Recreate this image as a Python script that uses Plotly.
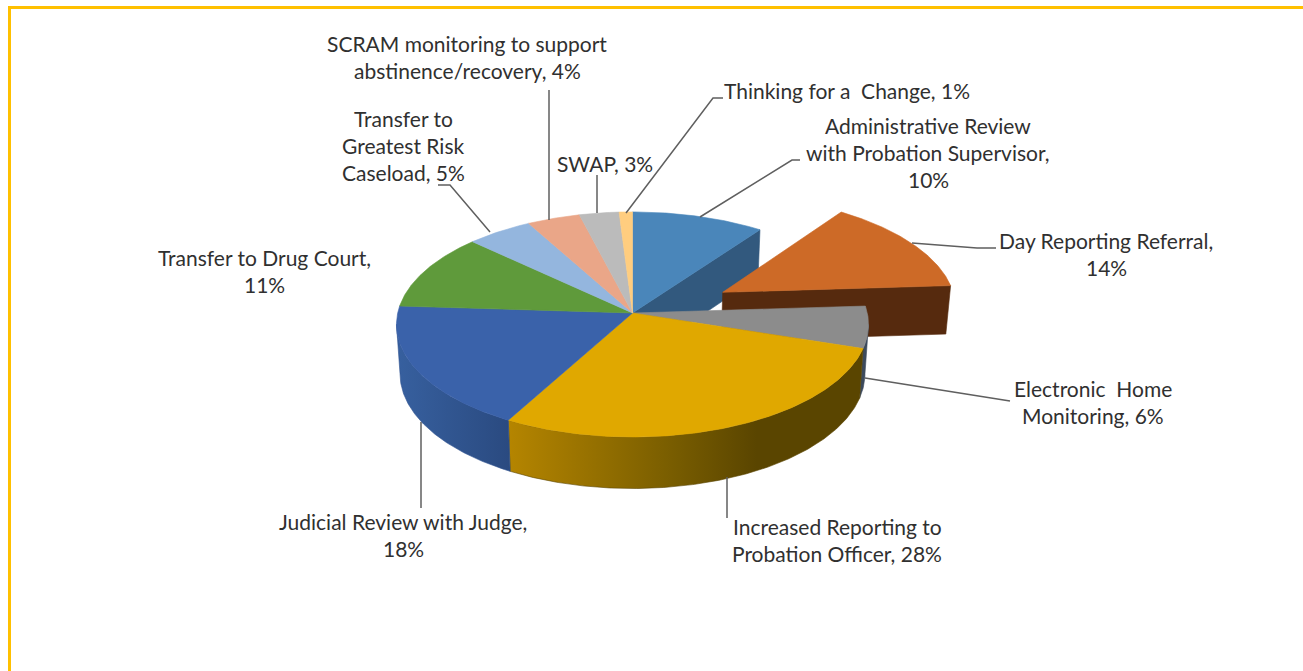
import numpy as np
import plotly.graph_objects as go

# ---- data ----
categories = ["Administrative Review with Probation Supervisor", "Day Reporting Referral",
              "Electronic Home Monitoring", "Increased Reporting to Probation Officer",
              "Judicial Review with Judge", "Transfer to Drug Court",
              "Transfer to Greatest Risk Caseload", "SCRAM monitoring to support abstinence/recovery",
              "SWAP", "Thinking for a Change"]
values = [10, 14, 6, 28, 18, 11, 5, 4, 3, 1]
label_lines = [
    ["Administrative Review", "with Probation Supervisor,", "10%"],
    ["Day Reporting Referral,", "14%"],
    ["Electronic\u00a0 Home", "Monitoring, 6%"],
    ["Increased Reporting to", "Probation Officer, 28%"],
    ["Judicial Review with Judge,", "18%"],
    ["Transfer to Drug Court,", "11%"],
    ["Transfer to", "Greatest Risk", "Caseload, 5%"],
    ["SCRAM monitoring to support", "abstinence/recovery, 4%"],
    ["SWAP, 3%"],
    ["Thinking for a\u00a0 Change, 1%"],
]

# ---- styling / layout ----
top_colors = ["#4A86BA", "#CD6A27", "#8C8C8C", "#E0A800", "#3A62AA",
              "#5F9A3B", "#94B6DE", "#EAA688", "#BBBBBB", "#FFCD7F"]
explode = {1: (0.435, 3.0)}  # pull-out radius, direction tweak in degrees
CX, CY, RX, AY, K = 632.5, 313.0, 234.8, 111.4, 0.102
DEPTH, SHRINK_X, SHRINK_Y = 49.0, 0.985, 0.975
label_pos = [(928, 126), (1106, 241), (1093, 389), (837, 527), (403, 522),
             (264, 258), (403, 119), (467, 44), (605, 164), (847, 91)]
LINE_H = 27
leaders = [[(700, 217), (792, 160), (800, 160)], [(912, 243), (977, 248), (996, 248)], [(865, 378), (1010, 401)],
           [(727, 477), (727, 518)], [(421, 422), (421, 508)], None,
           [(490, 232), (450, 185), (438, 185)], [(549, 220), (549, 90)], [(597, 213), (597, 175)],
           [(626, 213), (713, 98), (723, 98)]]


def project(t_deg, r=1.0, off=(0.0, 0.0), lower=False):
    """Perspective projection of a point of the pie's ground circle."""
    t = np.radians(t_deg)
    u = r * np.sin(t) + off[0]
    v = -r * np.cos(t) + off[1]
    w = 1 - K * v
    if lower:
        return CX + SHRINK_X * RX * u / w, CY + DEPTH / w + SHRINK_Y * AY * v / w
    return CX + RX * u / w, CY + AY * v / w


def arc(a0, a1, off=(0.0, 0.0), lower=False):
    ts = np.linspace(a0, a1, max(int(abs(a1 - a0) * 2), 2))
    return project(ts, 1.0, off, lower)


fig = go.Figure()


def poly(xs, ys, color, grad=None):
    kw = dict(fillcolor=color)
    if grad:
        kw = dict(fillgradient=dict(type="horizontal", colorscale=grad))
    fig.add_trace(go.Scatter(x=list(xs), y=list(ys), mode="lines", fill="toself",
                             line=dict(width=0.6, color=color), hoverinfo="skip",
                             showlegend=False, **kw))


edges = np.concatenate([[0], np.cumsum(values)]) * 3.6
mid = (edges[:-1] + edges[1:]) / 2
offs = []
for i, m in enumerate(mid):
    r, tweak = explode.get(i, (0.0, 0.0))
    a = np.radians(m + tweak)
    offs.append((r * np.sin(a), -r * np.cos(a)))


def cut_face(i, angle, color):
    off = offs[i]
    x0, y0 = project(0, 0, off)
    x1, y1 = project(angle, 1, off)
    x2, y2 = project(angle, 1, off, True)
    x3, y3 = project(0, 0, off, True)
    poly([x0, x1, x2, x3, x0], [y0, y1, y2, y3, y0], color)


def outer_wall(i, a0, a1, color, grad=None):
    tx, ty = arc(a0, a1, offs[i])
    bx, by = arc(a0, a1, offs[i], True)
    poly(np.r_[tx, bx[::-1], tx[0]], np.r_[ty, by[::-1], ty[0]], color, grad)


def top(i):
    off = offs[i]
    x0, y0 = project(0, 0, off)
    ax, ay = arc(edges[i], edges[i + 1], off)
    poly(np.r_[x0, ax, x0], np.r_[y0, ay, y0], top_colors[i])


# angles where the pie's outline turns (left/right silhouette of the side wall)
sil = np.arange(0, 360, 0.25)
sil_x = project(sil)[0]
right_turn, left_turn = sil[np.argmax(sil_x)], sil[np.argmin(sil_x)]

# back to front
cut_face(0, edges[1], "#32597E")
cut_face(1, edges[2], "#562A0E")
top(1)
outer_wall(2, right_turn, edges[3], "#3C4A5C")
outer_wall(3, edges[3], edges[4], "#5A4500",
           [[0, "#B58500"], [0.45, "#7A5E00"], [0.7, "#5A4500"], [1, "#5A4500"]])
outer_wall(4, edges[4], left_turn, "#2F5390",
           [[0, "#37609F"], [1, "#2A4A80"]])
for i in [0, 2, 3, 4, 5, 6, 7, 8, 9]:
    top(i)

for pts in leaders:
    if pts:
        fig.add_trace(go.Scatter(x=[p[0] for p in pts], y=[p[1] for p in pts], mode="lines",
                                 line=dict(color="#5F5F5F", width=1.5), hoverinfo="skip", showlegend=False))

for lines, (lx, ly) in zip(label_lines, label_pos):
    for j, txt in enumerate(lines):
        fig.add_annotation(x=lx, y=ly + j * LINE_H - 1, text=txt, showarrow=False, xanchor="center",
                           yanchor="middle", font=dict(family="Lato", size=21, color="#303030"))

YEL = "#FFC000"
fig.add_shape(type="line", x0=8, x1=1303, y0=7.5, y1=7.5, line=dict(color=YEL, width=3))
fig.add_shape(type="line", x0=9.5, x1=9.5, y0=6, y1=671, line=dict(color=YEL, width=3))

fig.update_xaxes(visible=False, range=[0, 1303], fixedrange=True)
fig.update_yaxes(visible=False, range=[671, 0], fixedrange=True)
fig.update_layout(width=1303, height=671, margin=dict(l=0, r=0, t=0, b=0),
                  paper_bgcolor="white", plot_bgcolor="white", showlegend=False)
fig.write_html("out.html", config={"displayModeBar": False},
               post_script="document.body.style.margin='0';document.documentElement.style.overflow='hidden';")
